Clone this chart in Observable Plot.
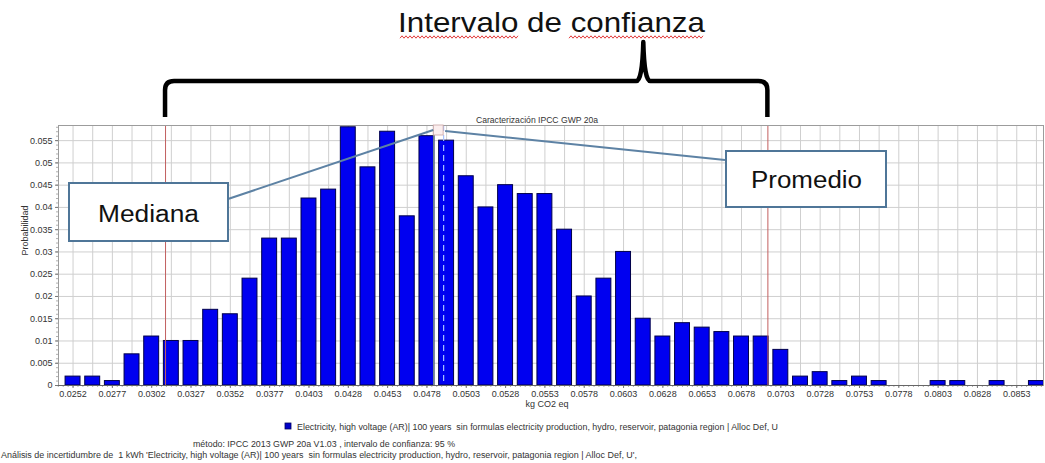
<!DOCTYPE html>
<html>
<head>
<meta charset="utf-8">
<script src="https://cdn.jsdelivr.net/npm/d3@7"></script>
<script src="https://cdn.jsdelivr.net/npm/@observablehq/plot@0.6"></script>
<style>
  html, body { margin: 0; padding: 0; background: #fff; }
  svg { display: block; }
</style>
</head>
<body>
<div id="chart"></div>
<script>
// ---------- data ----------
const binStart = 0.0252;          // centre of the first bin (kg CO2 eq)
const binWidth = 0.0601 / 48;     // width of one histogram bin
const probabilities = [
  0.002, 0.002, 0.001, 0.007, 0.011, 0.010, 0.010, 0.017, 0.016, 0.024,
  0.033, 0.033, 0.042, 0.044, 0.058, 0.049, 0.057, 0.038, 0.056, 0.055,
  0.047, 0.040, 0.045, 0.043, 0.043, 0.035, 0.020, 0.024, 0.030, 0.015,
  0.011, 0.014, 0.013, 0.012, 0.011, 0.011, 0.008, 0.002, 0.003, 0.001,
  0.002, 0.001, 0.000, 0.000, 0.001, 0.001, 0.000, 0.001, 0.000, 0.001
];
const xTickLabels = ["0.0252","0.0277","0.0302","0.0327","0.0352","0.0377","0.0403","0.0428","0.0453",
  "0.0478","0.0503","0.0528","0.0553","0.0578","0.0603","0.0628","0.0653","0.0678","0.0703","0.0728",
  "0.0753","0.0778","0.0803","0.0828","0.0853"];
const yTicks = [0, 0.005, 0.01, 0.015, 0.02, 0.025, 0.03, 0.035, 0.04, 0.045, 0.05, 0.055];
const yTickLabels = ["0","0.005","0.01","0.015","0.02","0.025","0.03","0.035","0.04","0.045","0.05","0.055"];
const ciLow = 0.03109, ciHigh = 0.06945;   // 95 % confidence interval
const median = 0.04817, mean = 0.04880;

const chartTitle = "Caracterización IPCC GWP 20a";
const xLabel = "kg CO2 eq";
const yLabel = "Probabilidad";
const bigTitle = "Intervalo de confianza";
const medianLabel = "Mediana";
const meanLabel = "Promedio";
const legendText = "Electricity, high voltage (AR)| 100 years  sin formulas electricity production, hydro, reservoir, patagonia region | Alloc Def, U";
const methodText = "método: IPCC 2013 GWP 20a V1.03 , intervalo de confianza: 95 %";
const analysisText = "Análisis de incertidumbre de  1 kWh 'Electricity, high voltage (AR)| 100 years  sin formulas electricity production, hydro, reservoir, patagonia region | Alloc Def, U',";

// ---------- derived table ----------
const bars = probabilities.map((p, i) => ({x: binStart + i * binWidth, p}));
const centers = bars.map(d => d.x);
const tickValues = centers.filter((d, i) => i % 2 === 0).slice(0, xTickLabels.length);
const xLabelMap = new Map(tickValues.map((v, i) => [v, xTickLabels[i]]));
const yLabelMap = new Map(yTicks.map((v, i) => [v, yTickLabels[i]]));
const minorX = d3.range(centers[0] - binWidth * 0.75, centers[centers.length - 1] + binWidth * 0.4, binWidth / 4);
const minorY = d3.range(0, 0.0585, 0.001);

const font = "'Liberation Sans', Arial, sans-serif";
const barHalf = binWidth * 0.38;

const chart = Plot.plot({
  width: 1045,
  height: 463,
  marginLeft: 58,
  marginRight: 2,
  marginTop: 125,
  marginBottom: 78,
  style: {fontFamily: font, fontSize: "9px", background: "#fff", color: "#333"},
  x: {type: "linear", domain: [centers[0] - binWidth * 0.74, centers[centers.length - 1] + binWidth * 0.36]},
  y: {domain: [0, 0.0584]},
  marks: [
    Plot.gridX(centers, {stroke: "#cfcfcf", strokeOpacity: 1}),
    Plot.gridY(yTicks, {stroke: "#cfcfcf", strokeOpacity: 1}),
    Plot.rect(bars, {
      x1: d => d.x - barHalf, x2: d => d.x + barHalf,
      y1: () => 0, y2: "p",
      fill: "#0000f0", stroke: "#00004a", strokeWidth: 1
    }),
    Plot.ruleX([ciLow, ciHigh], {stroke: "#c25f5f", strokeWidth: 1}),
    Plot.ruleX([median], {stroke: "#6c7f90", strokeWidth: 1.5}),
    Plot.ruleX([mean], {stroke: "#a8c2ff", strokeWidth: 1.2, strokeDasharray: "6,4"}),
    Plot.frame({stroke: "#9c9c9c"}),
    Plot.axisX(minorX, {tickSize: 2, tickFormat: () => "", stroke: "#b0b0b0", label: null}),
    Plot.axisY(minorY, {tickSize: 2, tickFormat: () => "", stroke: "#b0b0b0", label: null}),
    Plot.axisX(tickValues, {tickSize: 3, tickPadding: 2, tickFormat: d => xLabelMap.get(d), fontSize: 9, label: null, stroke: "#777"}),
    Plot.axisY(yTicks, {tickSize: 3, tickPadding: 3, tickFormat: d => yLabelMap.get(d), fontSize: 9, label: null, stroke: "#777"}),
    Plot.ruleY([0], {stroke: "#666"}),
    Plot.text([yLabel], {frameAnchor: "left", dx: -33, rotate: -90, fontSize: 9, fill: "#333"}),
    Plot.text([xLabel], {frameAnchor: "bottom", dy: 21, dx: -4, fontSize: 9, fill: "#333"}),
    Plot.text([chartTitle], {frameAnchor: "top", dy: -9, dx: -14, fontSize: 8.6, fill: "#333"})
  ]
});

document.getElementById("chart").appendChild(chart);

// ---------- annotation layer (positions from the plot's own x scale) ----------
const sx = chart.scale("x");
const X = sx.apply ? (v => sx.apply(v)) : d3.scaleLinear(sx.domain, sx.range);
const svg = d3.select(chart);
const g = svg.append("g").attr("font-family", font).attr("text-anchor", "start");

// small marker box between median and mean at the top of the frame
g.append("rect")
  .attr("x", X(median)).attr("y", 125)
  .attr("width", X(mean) - X(median)).attr("height", 10)
  .attr("fill", "#fbeeee").attr("stroke", "#c9a3a3").attr("stroke-width", 0.8);

// curly brace spanning the confidence interval
const xl = X(ciLow), xr = X(ciHigh), xt = xl + 0.794 * (xr - xl);
const yb = 117, yh = 81, ytip = 42, r = 9;
const brace = d3.path();
brace.moveTo(xl, yb);
brace.lineTo(xl, yh + r);
brace.quadraticCurveTo(xl, yh, xl + r, yh);
brace.lineTo(xt - 7, yh);
brace.quadraticCurveTo(xt - 1, yh, xt, ytip);
brace.quadraticCurveTo(xt + 1, yh, xt + 7, yh);
brace.lineTo(xr - r, yh);
brace.quadraticCurveTo(xr, yh, xr, yh + r);
brace.lineTo(xr, yb);
g.append("path").attr("d", brace.toString())
  .attr("fill", "none").attr("stroke", "#000").attr("stroke-width", 4.5).attr("stroke-linejoin", "round");

// big title
g.append("text").attr("x", 398).attr("y", 32)
  .attr("font-size", 28).attr("fill", "#111")
  .attr("textLength", 307).attr("lengthAdjust", "spacingAndGlyphs")
  .text(bigTitle);

// spell-check squiggles
function squiggle(x0, x1, y) {
  const pts = [];
  for (let x = x0, k = 0; x <= x1; x += 2, k++) pts.push([x, y + (k % 2 ? -1.2 : 1.2)]);
  return d3.line()(pts);
}
[[400, 518], [569, 703]].forEach(([a, b]) =>
  g.append("path").attr("d", squiggle(a, b, 37)).attr("fill", "none")
    .attr("stroke", "#e23b3b").attr("stroke-width", 1));

// callouts
const calloutStroke = "#4f7698";
g.append("line").attr("x1", 228).attr("y1", 199).attr("x2", X(median)).attr("y2", 130)
  .attr("stroke", "#5d82a4").attr("stroke-width", 2);
g.append("line").attr("x1", 725).attr("y1", 160).attr("x2", X(mean) + 2).attr("y2", 131)
  .attr("stroke", "#5d82a4").attr("stroke-width", 2);

g.append("rect").attr("x", 69).attr("y", 183).attr("width", 159).attr("height", 58)
  .attr("fill", "#fff").attr("stroke", calloutStroke).attr("stroke-width", 2);
g.append("text").attr("x", 98).attr("y", 222).attr("font-size", 23).attr("fill", "#111")
  .attr("textLength", 101).attr("lengthAdjust", "spacingAndGlyphs").text(medianLabel);

g.append("rect").attr("x", 726).attr("y", 151).attr("width", 160).attr("height", 56)
  .attr("fill", "#fff").attr("stroke", calloutStroke).attr("stroke-width", 2);
g.append("text").attr("x", 751).attr("y", 188).attr("font-size", 23).attr("fill", "#111")
  .attr("textLength", 111).attr("lengthAdjust", "spacingAndGlyphs").text(meanLabel);

// legend and footer
g.append("rect").attr("x", 285).attr("y", 423).attr("width", 6).attr("height", 6)
  .attr("fill", "#0000c8").attr("stroke", "#000060").attr("stroke-width", 0.8);
g.append("text").attr("x", 297).attr("y", 429.5).attr("font-size", 8.3).attr("fill", "#333")
  .attr("textLength", 481).attr("lengthAdjust", "spacingAndGlyphs").text(legendText);
g.append("text").attr("x", 193).attr("y", 447).attr("font-size", 8.3).attr("fill", "#333")
  .attr("textLength", 262).attr("lengthAdjust", "spacingAndGlyphs").text(methodText);
g.append("text").attr("x", 1).attr("y", 458).attr("font-size", 8.3).attr("fill", "#333")
  .attr("textLength", 636).attr("lengthAdjust", "spacingAndGlyphs").text(analysisText);
</script>
</body>
</html>
